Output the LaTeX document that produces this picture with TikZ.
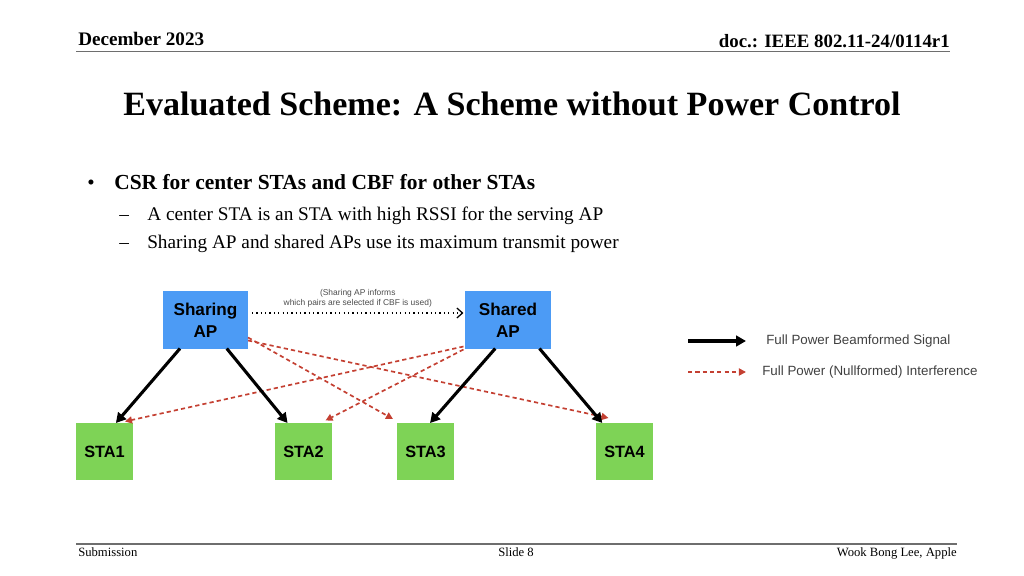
\documentclass[tikz,border=0pt]{standalone}
\usepackage{fontspec}
\setmainfont{Liberation Serif}
\newfontfamily\diagfont{Liberation Sans}
\usetikzlibrary{arrows.meta}
\usetikzlibrary{calc}
\definecolor{apblue}{RGB}{76,155,245}
\definecolor{stagreen}{RGB}{126,211,86}
\definecolor{nullred}{RGB}{196,64,50}
\definecolor{rulegray}{RGB}{110,110,110}
\newcommand{\apwidth}{2.125cm}
\newcommand{\boxheight}{1.425cm}
\tikzstyle{box}=[inner sep=0, outer sep=0, minimum height=\boxheight, align=center]
\tikzstyle{apbox}=[box, fill=apblue, minimum width=\apwidth,
                   font=\diagfont\bfseries\fontsize{12.2}{15.6}\selectfont]
\tikzstyle{stabox}=[box, fill=stagreen, minimum width=\boxheight,
                    font=\diagfont\bfseries\fontsize{11.6}{14}\selectfont]
\tikzstyle{beam}=[line width=2.2pt, -{Triangle[length=7pt, width=7.5pt]}]
\tikzstyle{interf}=[nullred, line width=1.2pt, dash pattern=on 3pt off 2.2pt,
                    -{Triangle[length=5pt, width=5pt]}]
\tikzstyle{inform}=[line width=0.9pt, dash pattern=on 0.9pt off 2.2pt,
                    -{Straight Barb[length=4pt, width=7pt]}]
\tikzstyle{legendtext}=[anchor=west, inner sep=0, text=black!75,
                        font=\diagfont\fontsize{9.5}{11}\selectfont]
\begin{document}
\begin{tikzpicture}[x=0.025cm, y=-0.025cm]
    \useasboundingbox (0, 0) rectangle (1024, 576);
    % header and footer
    \node[anchor=base west, inner sep=0, font=\bfseries\fontsize{13.6}{15}\selectfont] (date) at (78, 46) {December 2023};
    \node[anchor=base east, inner sep=0, font=\bfseries\fontsize{13.4}{15}\selectfont] (doc) at (950, 48) {doc.: IEEE 802.11-24/0114r1};
    \draw[rulegray, line width=1.1pt] (76, 51.5) -- (950, 51.5);
    \draw[rulegray, line width=1.1pt] (76, 544) -- (957, 544);
    \node[anchor=base west, inner sep=0, font=\fontsize{9}{10}\selectfont] (sub) at (78, 556) {Submission};
    \node[anchor=base, inner sep=0, font=\fontsize{9}{10}\selectfont] (slide) at (516, 556) {Slide 8};
    \node[anchor=base east, inner sep=0, font=\fontsize{9}{10}\selectfont] (author) at (957, 556) {Wook Bong Lee, Apple};
    % title and bullets
    \node[anchor=base, inner sep=0, font=\bfseries\fontsize{24.2}{27}\selectfont] (title) at (512, 116) {Evaluated Scheme: A Scheme without Power Control};
    \node[anchor=base west, inner sep=0, font=\fontsize{15}{17}\selectfont] (dot) at (87, 190) {\textbullet};
    \node[anchor=base west, inner sep=0, font=\bfseries\fontsize{15.25}{17}\selectfont] (main) at (114, 190) {CSR for center STAs and CBF for other STAs};
    \node[anchor=base west, inner sep=0, font=\fontsize{13.7}{15}\selectfont] (dashA) at (119, 221) {--};
    \node[anchor=base west, inner sep=0, font=\fontsize{13.7}{15}\selectfont] (subA) at (147, 221) {A center STA is an STA with high RSSI for the serving AP};
    \node[anchor=base west, inner sep=0, font=\fontsize{13.7}{15}\selectfont] (dashB) at (119, 249) {--};
    \node[anchor=base west, inner sep=0, font=\fontsize{13.7}{15}\selectfont] (subB) at (147, 249) {Sharing AP and shared APs use its maximum transmit power};
    % access points and stations
    \node[apbox] (sharing) at (205.5, 320) {Sharing\\AP};
    \node[apbox] (shared) at (508, 320) {Shared\\AP};
    \node[stabox] (sta1) at (104.5, 451.5) {STA1};
    \node[stabox] (sta2) at (303.5, 451.5) {STA2};
    \node[stabox] (sta3) at (425.5, 451.5) {STA3};
    \node[stabox] (sta4) at (624.5, 451.5) {STA4};
    % coordination message
    \draw[inform] ($(sharing.east)+(4, -7)$) -- ($(shared.west)+(-2, -7)$)
        node[midway, above=3.5pt, inner sep=0, align=center, text=black!70,
             font=\diagfont\fontsize{6}{7}\selectfont] (informlabel) {(Sharing AP informs\\which pairs are selected if CBF is used)};
    % nullformed interference
    \draw[interf] ($(sharing.south east)+(0, -11)$) -- ($(sta3.north west)+(-4, -4)$);
    \draw[interf] ($(sharing.south east)+(0, -8)$) -- ($(sta4.north)+(-16, -5)$);
    \draw[interf] ($(shared.south west)+(-2, -2)$) -- ($(sta1.north)+(20.5, -1.5)$);
    \draw[interf] ($(shared.south west)+(-2, 1)$) -- ($(sta2.north)+(22, -2.5)$);
    % beamformed signals
    \draw[beam] ($(sharing.south west)!0.2!(sharing.south east)$) -- ($(sta1.north west)!0.7!(sta1.north east)$);
    \draw[beam] ($(sharing.south west)!0.75!(sharing.south east)$) -- ($(sta2.north west)!0.22!(sta2.north east)$);
    \draw[beam] ($(shared.south west)!0.35!(shared.south east)$) -- ($(sta3.north west)!0.58!(sta3.north east)$);
    \draw[beam] ($(shared.south west)!0.87!(shared.south east)$) -- ($(sta4.north west)!0.11!(sta4.north east)$);
    % legend
    \coordinate (beamA) at (688, 341);
    \coordinate (beamB) at (746, 341);
    \coordinate (interfA) at (688, 372);
    \coordinate (interfB) at (746, 372);
    \draw[beam] (beamA) -- (beamB);
    \draw[interf] (interfA) -- (interfB);
    \node[legendtext] (beamtext) at (766, 341) {Full Power Beamformed Signal};
    \node[legendtext] (interftext) at (762, 372) {Full Power (Nullformed) Interference};
\end{tikzpicture}
\end{document}
